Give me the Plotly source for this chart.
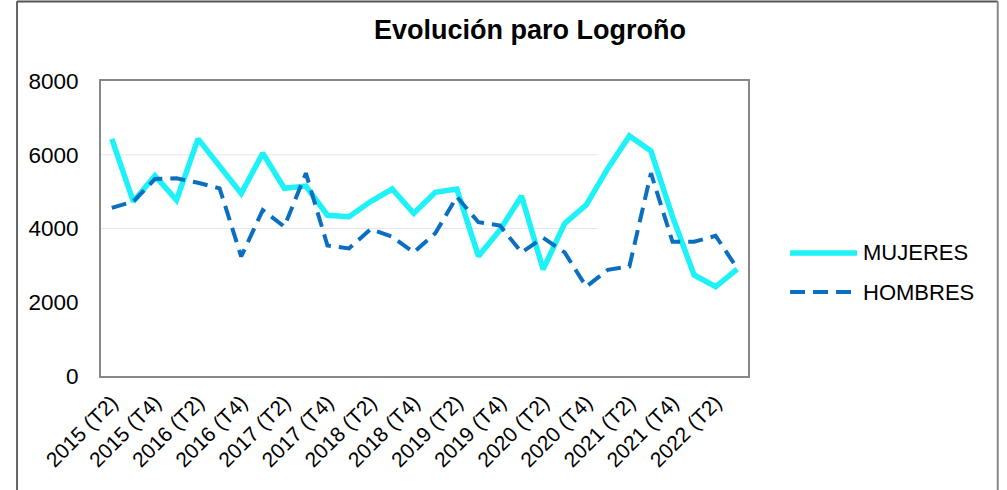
import plotly.graph_objects as go

categories = []
for yr in range(2015, 2023):
    for q in range(1, 5):
        if (yr == 2015 and q < 2) or (yr == 2022 and q > 3):
            continue
        categories.append(f"{yr} (T{q})")

mujeres = [6430, 4730, 5430, 4770, 6430, 5680, 4950, 6040, 5090, 5150,
           4360, 4320, 4730, 5070, 4410, 4980, 5070, 3250, 3960, 4880,
           2890, 4140, 4640, 5630, 6510, 6100, 4320, 2740, 2420, 2900]
hombres = [4560, 4730, 5340, 5360, 5240, 5090, 3240, 4500, 4050, 5500,
           3540, 3460, 3980, 3780, 3350, 3870, 4860, 4170, 4080, 3350,
           3750, 3350, 2420, 2880, 2970, 5500, 3640, 3640, 3800, 2920]

tick_labels = categories[::2]
y_ticks = [0, 2000, 4000, 6000, 8000]
grid_values = [4000, 6000]

C_MUJ = "#1CF2F7"
C_HOM = "#0A6FC0"

fig = go.Figure()
fig.add_trace(go.Scatter(x=categories, y=mujeres, mode="lines", name="MUJERES",
                         line=dict(color=C_MUJ, width=5.5), showlegend=False))
fig.add_trace(go.Scatter(x=categories, y=hombres, mode="lines", name="HOMBRES",
                         line=dict(color=C_HOM, width=4, dash="15px,8px"), showlegend=False))

font = "Liberation Sans, Arial, sans-serif"

shapes = []
for g in grid_values:
    shapes.append(dict(type="line", xref="paper", yref="y", x0=0, x1=0.767, y0=g, y1=g,
                       line=dict(color="#E3E6F4", width=1.2), layer="below"))
# outer chart border
shapes.append(dict(type="line", xref="paper", yref="paper", x0=-0.1298, x1=-0.1298, y0=-0.4, y1=1.27,
                   line=dict(color="#333333", width=1.5)))
shapes.append(dict(type="line", xref="paper", yref="paper", x0=-0.1298, x1=1.386, y0=1.2695, y1=1.2695,
                   line=dict(color="#555555", width=2)))
shapes.append(dict(type="line", xref="paper", yref="paper", x0=1.386, x1=1.386, y0=-0.4, y1=1.27,
                   line=dict(color="#888888", width=2)))
# custom legend
legend_items = [("MUJERES", C_MUJ, 5.5, "solid", 0.417), ("HOMBRES", C_HOM, 4, "15px,8px", 0.2847)]
annotations = []
for name, col, w, d, yy in legend_items:
    shapes.append(dict(type="line", xref="paper", yref="paper", x0=1.065, x1=1.1685, y0=yy, y1=yy,
                       line=dict(color=col, width=w, dash=d)))
    annotations.append(dict(text=name, xref="paper", yref="paper", x=1.174, y=yy, xanchor="left",
                            yanchor="middle", showarrow=False, font=dict(family=font, size=22, color="#000")))

annotations.append(dict(text="<b>Evolución paro Logroño</b>", xref="paper", yref="paper",
                        x=(530 - 101) / 647, y=(376 - 30) / 295, xanchor="center", yanchor="middle",
                        showarrow=False, font=dict(family=font, size=27, color="#000")))

fig.update_layout(
    width=1007, height=490,
    margin=dict(l=101, r=259, t=81, b=114),
    paper_bgcolor="white", plot_bgcolor="white",
    font=dict(family=font, size=21, color="#000"),
    shapes=shapes, annotations=annotations,
    xaxis=dict(type="category", range=[-0.5, len(categories) - 0.5],
               tickvals=tick_labels, ticktext=tick_labels, tickangle=-45,
               showgrid=False, showline=True, linecolor="#888888", linewidth=2, mirror=True,
               ticks="", ticklabelstandoff=4, tickfont=dict(size=21)),
    yaxis=dict(range=[0, 8000], tickvals=y_ticks, showgrid=False, zeroline=False,
               showline=True, linecolor="#888888", linewidth=2, mirror=True,
               ticks="", ticklabelstandoff=16, tickfont=dict(size=22.5)),
)

fig.write_html("out.html", config={"displayModeBar": False},
               post_script="document.body.style.margin='0px';")
